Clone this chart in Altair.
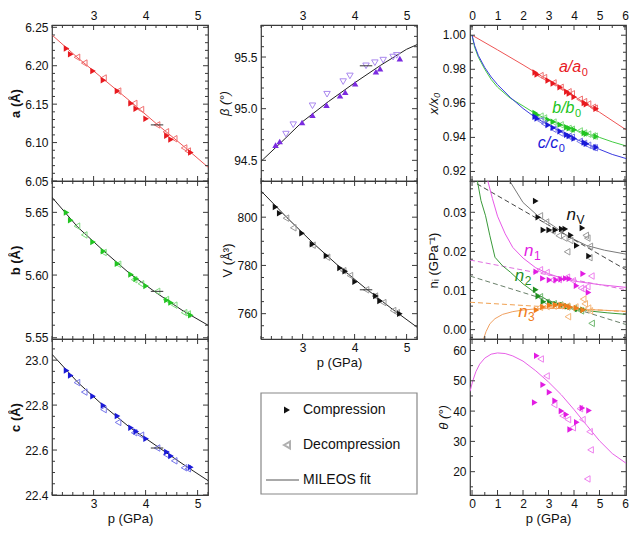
import altair as alt
import pandas as pd

FONT = "Liberation Sans"
FRAME = "#3a3a3a"

# ---------------- data ----------------
p_comp   = [2.48, 2.56, 2.99, 3.19, 3.46, 3.72, 3.82, 4.01, 4.41, 4.49, 4.87]
p_decomp = [2.68, 2.82, 3.19, 3.47, 3.78, 3.91, 4.22, 4.39, 4.55, 4.74, 4.81]
p_err_lo = [4.10]
p_err_hi = [4.34]

a_comp   = [6.2225, 6.215, 6.193, 6.181, 6.167, 6.151, 6.144, 6.131, 6.109, 6.104, 6.087]
a_decomp = [6.211, 6.2035, 6.184, 6.167, 6.151, 6.143, 6.123, 6.114, 6.105, 6.093, 6.089]
a_err    = [6.123]
b_comp   = [5.6498, 5.6437, 5.6263, 5.619, 5.609, 5.6004, 5.597, 5.5912, 5.580, 5.578, 5.568]
b_decomp = [5.639, 5.632, 5.618, 5.6086, 5.5963, 5.593, 5.587, 5.5805, 5.576, 5.570, 5.569]
b_err    = [5.587]
c_comp   = [22.954, 22.932, 22.839, 22.798, 22.751, 22.699, 22.683, 22.650, 22.591, 22.574, 22.524]
c_decomp = [22.90, 22.858, 22.78, 22.723, 22.677, 22.666, 22.609, 22.58, 22.552, 22.521, 22.517]
c_err    = [22.609]
beta_comp   = [94.647, 94.683, 94.866, 94.937, 95.034, 95.125, 95.159, 95.241, 95.357, 95.388, 95.485]
beta_decomp = [94.754, 94.845, 95.028, 95.140, 95.262, 95.317, 95.415, 95.445, 95.47, 95.50, 95.516]
beta_err    = [95.415]
V_comp   = [804.2, 801.6, 793.3, 788.8, 784.0, 778.9, 777.6, 773.2, 767.3, 765.3, 760.0]
V_decomp = [799.6, 795.6, 788.4, 783.4, 777.8, 775.8, 769.9, 767.3, 764.6, 761.3, 760.4]
V_err    = [769.9]

fit_p      = [2.2, 2.7, 3.2, 3.7, 4.2, 4.7, 5.2]
a_fit      = [6.240, 6.210, 6.182, 6.154, 6.125, 6.097, 6.068]
b_fit      = [5.662, 5.638, 5.619, 5.601, 5.586, 5.572, 5.560]
c_fit      = [23.026, 22.90, 22.795, 22.70, 22.62, 22.54, 22.464]
V_fit      = [810.9, 799.8, 789.3, 779.6, 770.7, 762.3, 754.4]
beta_fit_p = [2.2, 2.6, 3.0, 3.5, 4.0, 4.5, 5.0, 5.2]
beta_fit   = [94.49, 94.68, 94.875, 95.07, 95.25, 95.42, 95.575, 95.62]

# relative axes x/x0
ra_comp   = [0.9781, 0.9769, 0.9734, 0.9716, 0.9694, 0.9668, 0.9657, 0.9637, 0.9602, 0.9594, 0.9568]
ra_decomp = [0.9763, 0.9751, 0.9720, 0.9694, 0.9668, 0.9656, 0.9624, 0.9610, 0.9596, 0.9577, 0.9571]
rb_comp   = [0.9544, 0.9533, 0.9504, 0.9492, 0.9475, 0.9460, 0.9454, 0.9445, 0.9426, 0.9422, 0.9405]
rb_decomp = [0.9525, 0.9514, 0.9490, 0.9474, 0.9453, 0.9448, 0.9438, 0.9426, 0.9419, 0.9409, 0.9407]
rc_comp   = [0.9521, 0.9511, 0.9473, 0.9456, 0.9436, 0.9415, 0.9408, 0.9394, 0.9370, 0.9363, 0.9342]
rc_decomp = [0.9498, 0.9481, 0.9448, 0.9425, 0.9406, 0.9401, 0.9377, 0.9365, 0.9354, 0.9341, 0.9339]
ra_fit_p  = [0.0, 1.0, 2.0, 3.0, 4.0, 5.0, 6.04]
ra_fit    = [1.0, 0.9914, 0.9826, 0.9735, 0.9642, 0.9548, 0.9445]
rbc_fit_p = [0.0, 0.1, 0.25, 0.5, 0.75, 1.0, 1.5, 2.0, 2.5, 3.0, 3.5, 4.0, 4.5, 5.0, 5.5, 6.04]
rb_fit    = [1.0, 0.993, 0.987, 0.980, 0.974, 0.9695, 0.963, 0.9585, 0.9538, 0.9504, 0.9473, 0.9446, 0.9421, 0.9400, 0.9374, 0.9350]
rc_fit    = [1.0, 0.994, 0.988, 0.981, 0.9755, 0.971, 0.9635, 0.957, 0.9515, 0.9472, 0.9431, 0.9395, 0.9362, 0.9330, 0.9300, 0.9276]
ratio_lbl   = ["a/a", "b/b", "c/c"]
ratio_lbl_p = [4.28, 4.02, 3.38]
ratio_lbl_v = [0.9782, 0.9543, 0.9335]
ratio_ticks = [0.92, 0.94, 0.96, 0.98, 1.00]

# principal compressibilities n_i (GPa^-1)
nV_cp = [2.50, 2.60, 2.80, 3.03, 3.27, 3.52, 3.66, 3.88, 4.11, 4.33, 4.59]
nV_c  = [0.0329, 0.0287, 0.0255, 0.0255, 0.0255, 0.0257, 0.0257, 0.0241, 0.0215, 0.0260, 0.0188]
nV_dp = [2.66, 2.90, 3.15, 3.40, 3.62, 3.85, 3.73, 4.46, 4.52, 4.62, 4.60]
nV_d  = [0.0291, 0.0275, 0.0252, 0.0240, 0.0234, 0.0228, 0.0199, 0.0241, 0.0234, 0.0213, 0.0184]
n1_cp = [2.52, 2.78, 3.04, 3.30, 3.50, 3.68, 3.82, 4.10, 4.36, 4.57]
n1_c  = [0.0148, 0.0131, 0.0127, 0.0127, 0.0129, 0.0131, 0.0130, 0.0112, 0.0143, 0.0095]
n1_dp = [2.66, 2.92, 3.15, 3.40, 3.72, 3.95, 4.27, 4.38, 4.52, 4.68]
n1_d  = [0.0153, 0.0146, 0.0127, 0.0128, 0.0134, 0.0125, 0.0106, 0.0103, 0.0110, 0.0137]
n2_cp = [2.50, 2.60, 2.80, 3.05, 3.30, 3.55, 3.75, 4.14, 4.36]
n2_c  = [0.0102, 0.0085, 0.0071, 0.0068, 0.0065, 0.0063, 0.0060, 0.0053, 0.0051]
n2_dp = [2.66, 2.92, 3.20, 3.45, 3.73, 4.00, 4.27, 4.69]
n2_d  = [0.0084, 0.0070, 0.0066, 0.0063, 0.0058, 0.0054, 0.0048, 0.0016]
n3_cp = [2.53, 2.78, 3.05, 3.28, 3.50, 3.70, 3.85, 4.10, 4.36]
n3_c  = [0.0050, 0.0058, 0.0062, 0.0063, 0.0063, 0.0061, 0.0058, 0.0055, 0.0050]
n3_dp = [2.66, 2.92, 3.20, 3.45, 3.73, 3.76, 4.05, 4.36, 4.42, 4.55, 4.62]
n3_d  = [0.0057, 0.0059, 0.0060, 0.0061, 0.0060, 0.0033, 0.0058, 0.0078, 0.0066, 0.0055, 0.0048]

nV_fit_p = [1.48, 2.0, 2.6, 3.2, 3.8, 4.5, 5.2, 6.04]
nV_fit   = [0.038, 0.0325, 0.029, 0.0265, 0.0237, 0.0215, 0.0203, 0.0193]
n1_fit_p = [0.62, 0.8, 1.0, 1.3, 1.6, 2.0, 2.5, 3.0, 3.5, 4.0, 5.0, 6.04]
n1_fit   = [0.038, 0.0335, 0.029, 0.0245, 0.021, 0.0183, 0.0158, 0.0143, 0.0132, 0.0124, 0.0115, 0.0108]
n2_fit_p = [0.21, 0.35, 0.53, 0.7, 0.9, 1.2, 1.5, 2.0, 2.5, 3.0, 3.5, 4.0, 4.7, 5.3, 6.04]
n2_fit   = [0.038, 0.033, 0.0291, 0.024, 0.0185, 0.0163, 0.0147, 0.0117, 0.0093, 0.0074, 0.0064, 0.0056, 0.0047, 0.0043, 0.0039]
n3_fit_p = [0.45, 0.55, 0.7, 0.9, 1.2, 1.6, 2.0, 2.5, 3.0, 3.5, 4.0, 5.0, 6.04]
n3_fit   = [-0.0024, -0.0005, 0.0015, 0.0028, 0.0039, 0.0046, 0.005, 0.0053, 0.0054, 0.0054, 0.0053, 0.005, 0.0047]
lin_p    = [-0.08, 6.04]
nV_lin   = [0.0383, 0.0153]
n1_lin   = [0.0178, 0.0102]
n2_lin   = [0.0137, 0.0013]
n3_lin   = [0.0070, 0.0046]
n_lbl     = ["n", "n", "n", "n"]
n_sub     = ["V", "1", "2", "3"]
n_lbl_p   = [4.08, 2.41, 2.05, 2.18]
n_lbl_v   = [0.0281, 0.0187, 0.0124, 0.0033]

# angle theta (deg)
th_cp = [2.54, 2.46, 2.79, 3.04, 3.26, 3.51, 3.70, 3.85, 4.11, 4.33, 4.59]
th_c  = [58.3, 42.8, 48.7, 46.2, 43.4, 40.0, 38.9, 33.9, 36.3, 41.0, 40.2]
th_dp = [2.69, 2.92, 3.22, 3.55, 3.76, 3.95, 4.23, 4.33, 4.61, 4.65, 4.52]
th_d  = [57.2, 51.6, 42.1, 38.4, 37.2, 34.5, 40.8, 37.2, 33.2, 27.2, 17.6]
th_fit_p = [-0.08, 0.03, 0.15, 0.3, 0.5, 0.75, 1.0, 1.3, 1.6, 2.0, 2.5, 3.0, 3.5, 4.0, 4.5, 5.0, 5.5, 6.04]
th_fit   = [46.5, 50.0, 53.0, 55.5, 57.5, 58.8, 59.2, 59.0, 58.2, 56.5, 53.3, 49.6, 45.4, 40.5, 35.3, 30.2, 26.0, 22.8]

legend_labels = ["Compression", "Decompression", "MILEOS fit"]

# ---------------- colours ----------------
RED, RED_O = "#e8191f", "#f07070"
GRN, GRN_O = "#22c422", "#80dc80"
BLU, BLU_O = "#1a1ad8", "#7878ea"
PUR, PUR_O = "#7b2be0", "#aa88ee"
BLK, BLK_O = "#111111", "#9a9a9a"
MAG, MAG_O = "#e21ce2", "#ee80ee"
DGR, DGR_O = "#1f8f1f", "#70b870"
ORA, ORA_O = "#f07d1a", "#f5b77a"

# ---------------- layout ----------------
W = 156
H1, H2, H3 = 156, 158, 156
LEG_TOP, LEG_H = 54, 101


def sc(dom):
    return alt.Scale(domain=dom, nice=False, zero=False)


def df2(px, py):
    return pd.DataFrame({"p": px, "v": py})


class Panel:
    """Holds the shared scales and axis definitions of one panel; every layer uses the same ones."""

    def __init__(self, xs, ys, xax, yax, w, h):
        self.xs, self.ys, self.xax, self.yax, self.w, self.h = xs, ys, xax, yax, w, h
        self.layers = []

    def X(self, f):
        return alt.X(f, scale=self.xs, axis=self.xax)

    def Y(self, f):
        return alt.Y(f, scale=self.ys, axis=self.yax)

    def line(self, px, py, color, dash=None, width=1.0):
        kw = dict(color=color, strokeWidth=width, clip=True)
        if dash:
            kw["strokeDash"] = dash
        self.layers.append(alt.Chart(df2(px, py)).mark_line(**kw).encode(x=self.X("p:Q"), y=self.Y("v:Q")))

    def pts(self, px, py, shape, color, filled):
        if filled:
            m = alt.Chart(df2(px, py)).mark_point(shape=shape, filled=True, color=color, size=42, opacity=1)
        else:
            m = alt.Chart(df2(px, py)).mark_point(shape=shape, filled=False, color=color, size=42,
                                                  strokeWidth=1, opacity=1)
        self.layers.append(m.encode(x=self.X("p:Q"), y=self.Y("v:Q")))

    def errbar(self, lo, hi, yv):
        self.layers.append(alt.Chart(pd.DataFrame({"lo": lo, "hi": hi, "v": yv})).mark_rule(
            color="#333333", strokeWidth=1).encode(x=self.X("lo:Q"), x2="hi:Q", y=self.Y("v:Q")))

    def labels(self, txt, sub, lp, lv, colors, size=16, subsize=11):
        d = pd.DataFrame({"t": txt, "s": sub, "p": lp, "v": lv, "c": colors})
        enc = dict(x=self.X("p:Q"), y=self.Y("v:Q"), color=alt.Color("c:N", scale=None, legend=None))
        self.layers.append(alt.Chart(d).mark_text(align="right", baseline="alphabetic", font=FONT,
                                                  fontSize=size, fontStyle="italic").encode(text="t:N", **enc))
        self.layers.append(alt.Chart(d).mark_text(align="left", baseline="alphabetic", font=FONT,
                                                  fontSize=subsize, dy=4, dx=0.5).encode(text="s:N", **enc))

    def ylabels_text(self, vals, fmt):
        # tick labels drawn as text at the left edge (same place as axis labels)
        d = pd.DataFrame({"v": vals})
        self.layers.append(alt.Chart(d).mark_text(align="right", baseline="middle", font=FONT,
                                                  fontSize=12, color="#111111")
                           .encode(x=alt.value(-4), y=self.Y("v:Q"), text=alt.Text("v:Q", format=fmt)))

    def ticks(self, xmaj, xmin, ymaj, ymin):
        w, h = self.w, self.h
        for vals, L in ((xmaj, 5), (xmin, 3)):
            base = alt.Chart(pd.DataFrame({"t": vals})).mark_rule(color=FRAME, strokeWidth=1)
            self.layers.append(base.encode(x=self.X("t:Q"), y=alt.value(0), y2=alt.value(L)))
            self.layers.append(base.encode(x=self.X("t:Q"), y=alt.value(h), y2=alt.value(h - L)))
        for vals, L in ((ymaj, 5), (ymin, 3)):
            base = alt.Chart(pd.DataFrame({"t": vals})).mark_rule(color=FRAME, strokeWidth=1)
            self.layers.append(base.encode(y=self.Y("t:Q"), x=alt.value(0), x2=alt.value(L)))
            self.layers.append(base.encode(y=self.Y("t:Q"), x=alt.value(w), x2=alt.value(w - L)))

    def chart(self):
        return alt.layer(*self.layers).properties(width=self.w, height=self.h)


def xaxis(orient, values, title=None, fmt="d"):
    return alt.Axis(orient=orient, values=values, format=fmt, ticks=False, labelFontSize=12,
                    labelPadding=3, title=title, titleFontSize=13, titlePadding=3,
                    domain=False, grid=False, titleFontWeight="normal", labelOverlap=False,
                    labelFlush=False)


def yaxis(values, title, fmt, bold=False, italic=False, labels=True):
    kw = dict(values=values, format=fmt, ticks=False, labelFontSize=12, labelPadding=4,
              title=title, titleFontSize=13, titlePadding=2, domain=False, grid=False,
              titleFontWeight="bold" if bold else "normal", labelOverlap=False, labelFlush=False)
    if not labels:
        kw["labelOpacity"] = 0
    if italic:
        kw["titleFontStyle"] = "italic"
    return alt.Axis(**kw)


# left / middle columns share pressure range
XL = sc([2.2, 5.2])
xl_maj = [3, 4, 5]
xl_min = [2.2, 2.4, 2.6, 2.8, 3.2, 3.4, 3.6, 3.8, 4.2, 4.4, 4.6, 4.8, 5.2]


def lattice_panel(comp, decomp, err, fitp, fit, ydom, ymaj, ymin, h, col, col_o, fitcol,
                  xax, yax, shapes=("triangle-right", "triangle-left")):
    P = Panel(XL, sc(ydom), xax, yax, W, h)
    P.line(fitp, fit, fitcol)
    P.pts(p_decomp, decomp, shapes[1], col_o, False)
    P.pts(p_comp, comp, shapes[0], col, True)
    P.errbar(p_err_lo, p_err_hi, err)
    P.ticks(xl_maj, xl_min, ymaj, ymin)
    return P.chart()


pa = lattice_panel(a_comp, a_decomp, a_err, fit_p, a_fit, [6.05, 6.253],
                   [6.05, 6.10, 6.15, 6.20, 6.25],
                   [6.06, 6.07, 6.08, 6.09, 6.11, 6.12, 6.13, 6.14, 6.16, 6.17, 6.18, 6.19, 6.21, 6.22, 6.23, 6.24],
                   H1, RED, RED_O, "#ee5555",
                   xaxis("top", xl_maj), yaxis([6.05, 6.10, 6.15, 6.20, 6.25], "a (Å)", ".2f", bold=True))
pb = lattice_panel(b_comp, b_decomp, b_err, fit_p, b_fit, [5.549, 5.675],
                   [5.55, 5.60, 5.65],
                   [5.56, 5.57, 5.58, 5.59, 5.61, 5.62, 5.63, 5.64, 5.66, 5.67],
                   H2, GRN, GRN_O, "#222222",
                   None, yaxis([5.55, 5.60, 5.65], "b (Å)", ".2f", bold=True))
pc = lattice_panel(c_comp, c_decomp, c_err, fit_p, c_fit, [22.4, 23.094],
                   [22.4, 22.6, 22.8, 23.0],
                   [22.45, 22.5, 22.55, 22.65, 22.7, 22.75, 22.85, 22.9, 22.95, 23.05],
                   H3, BLU, BLU_O, "#222222",
                   xaxis("bottom", xl_maj, "p (GPa)"), yaxis([22.4, 22.6, 22.8, 23.0], "c (Å)", ".1f", bold=True))

pbeta = lattice_panel(beta_comp, beta_decomp, beta_err, beta_fit_p, beta_fit, [94.3, 95.81],
                      [94.5, 95.0, 95.5],
                      [94.4, 94.6, 94.7, 94.8, 94.9, 95.1, 95.2, 95.3, 95.4, 95.6, 95.7, 95.8],
                      H1, PUR, PUR_O, "#222222",
                      xaxis("top", xl_maj), yaxis([94.5, 95.0, 95.5], "β (°)", ".1f", italic=True),
                      shapes=("triangle-up", "triangle-down"))
pV = lattice_panel(V_comp, V_decomp, V_err, fit_p, V_fit, [749.5, 815.0],
                   [760, 780, 800],
                   [750, 755, 765, 770, 775, 785, 790, 795, 805, 810, 815],
                   H2, BLK, BLK_O, "#222222",
                   xaxis("bottom", xl_maj, "p (GPa)"), yaxis([760, 780, 800], "V (Å³)", "d"))

# legend box (lower part of the middle-bottom cell)
one = pd.DataFrame({"k": [0]})
leg_rows = [LEG_TOP + 17, LEG_TOP + 52, LEG_TOP + 87]
leg_layers = [
    alt.Chart(one).mark_rect(fill="white", stroke="#888888", strokeWidth=1.2)
    .encode(x=alt.value(0), x2=alt.value(W), y=alt.value(LEG_TOP), y2=alt.value(LEG_TOP + LEG_H)),
    alt.Chart(one).mark_point(shape="triangle-right", filled=True, color=BLK, size=48, opacity=1)
    .encode(x=alt.value(26), y=alt.value(leg_rows[0])),
    alt.Chart(one).mark_point(shape="triangle-left", filled=False, color="#b0b0b0", size=48, opacity=1)
    .encode(x=alt.value(26), y=alt.value(leg_rows[1])),
    alt.Chart(one).mark_rule(color="#555555", strokeWidth=1)
    .encode(x=alt.value(5), x2=alt.value(38), y=alt.value(leg_rows[2])),
]
for lbl, yy in zip(legend_labels, leg_rows):
    leg_layers.append(alt.Chart(one).mark_text(text=lbl, align="left", baseline="middle", font=FONT,
                                               fontSize=14, color="#111111")
                      .encode(x=alt.value(42), y=alt.value(yy)))
leg = alt.layer(*leg_layers).properties(width=W, height=H3,
                                         view=alt.ViewBackground(stroke="transparent"))

# right column
XR = sc([-0.08, 6.04])
xr_maj = [0, 1, 2, 3, 4, 5, 6]
xr_min = [0.5, 1.5, 2.5, 3.5, 4.5, 5.5]

P = Panel(XR, sc([0.9144, 1.006]), xaxis("top", xr_maj),
          yaxis(ratio_ticks, "x/x₀", ".2f", italic=True, labels=False), W, H1)
P.line(ra_fit_p, ra_fit, "#ee5555")
P.line(rbc_fit_p, rb_fit, "#44cc44")
P.line(rbc_fit_p, rc_fit, "#3a3ae0")
P.pts(p_decomp, ra_decomp, "triangle-left", RED_O, False)
P.pts(p_comp, ra_comp, "triangle-right", RED, True)
P.pts(p_decomp, rb_decomp, "triangle-left", GRN_O, False)
P.pts(p_comp, rb_comp, "triangle-right", GRN, True)
P.pts(p_decomp, rc_decomp, "triangle-left", BLU_O, False)
P.pts(p_comp, rc_comp, "triangle-right", BLU, True)
P.labels(ratio_lbl, ["0", "0", "0"], ratio_lbl_p, ratio_lbl_v, [RED, GRN, BLU])
P.ylabels_text(ratio_ticks, ".2f")
P.ticks(xr_maj, xr_min, ratio_ticks,
        [0.915, 0.925, 0.93, 0.935, 0.945, 0.95, 0.955, 0.965, 0.97, 0.975, 0.985, 0.99, 0.995, 1.005])
pxx = P.chart()

P = Panel(XR, sc([-0.0024, 0.038]), None, yaxis([0.00, 0.01, 0.02, 0.03], "nᵢ (GPa⁻¹)", ".2f"), W, H2)
P.line(nV_fit_p, nV_fit, "#7a7a7a")
P.line(lin_p, nV_lin, "#444444", dash=[5, 3])
P.line(n1_fit_p, n1_fit, "#e858e8")
P.line(lin_p, n1_lin, "#e070e0", dash=[5, 3])
P.line(n2_fit_p, n2_fit, "#3a9a3a")
P.line(lin_p, n2_lin, "#6a806a", dash=[5, 3])
P.line(n3_fit_p, n3_fit, "#f0a060")
P.line(lin_p, n3_lin, "#f0a050", dash=[5, 3])
P.pts(nV_dp, nV_d, "triangle-left", BLK_O, False)
P.pts(nV_cp, nV_c, "triangle-right", BLK, True)
P.pts(n1_dp, n1_d, "triangle-left", MAG_O, False)
P.pts(n1_cp, n1_c, "triangle-right", MAG, True)
P.pts(n2_dp, n2_d, "triangle-left", DGR_O, False)
P.pts(n2_cp, n2_c, "triangle-right", DGR, True)
P.pts(n3_dp, n3_d, "triangle-left", ORA_O, False)
P.pts(n3_cp, n3_c, "triangle-right", ORA, True)
P.labels(n_lbl, n_sub, n_lbl_p, n_lbl_v, [BLK, MAG, DGR, ORA], size=17, subsize=12)
P.ticks(xr_maj, xr_min, [0.00, 0.01, 0.02, 0.03],
        [-0.002, 0.002, 0.004, 0.006, 0.008, 0.012, 0.014, 0.016, 0.018,
         0.022, 0.024, 0.026, 0.028, 0.032, 0.034, 0.036])
pn = P.chart()

P = Panel(XR, sc([12.3, 63.8]), xaxis("bottom", xr_maj, "p (GPa)"),
          yaxis([20, 30, 40, 50, 60], "θ (°)", "d", italic=True), W, H3)
P.line(th_fit_p, th_fit, "#e860e8")
P.pts(th_dp, th_d, "triangle-left", MAG_O, False)
P.pts(th_cp, th_c, "triangle-right", MAG, True)
P.ticks(xr_maj, xr_min, [20, 30, 40, 50, 60], [15, 25, 35, 45, 55])
pth = P.chart()

chart = alt.concat(pa, pbeta, pxx, pb, pV, pn, pc, leg, pth, columns=3,
                   spacing={"row": 0, "column": 53}, bounds="flush").properties(
    padding={"left": 1, "top": 0, "right": 1, "bottom": 0}, background="white"
).configure_view(stroke=FRAME, strokeWidth=1.2).configure_axis(
    labelFont=FONT, titleFont=FONT, labelColor="#111111", titleColor="#111111", tickColor=FRAME
)

chart.save("out.html", embed_options={"renderer": "svg", "actions": False})
